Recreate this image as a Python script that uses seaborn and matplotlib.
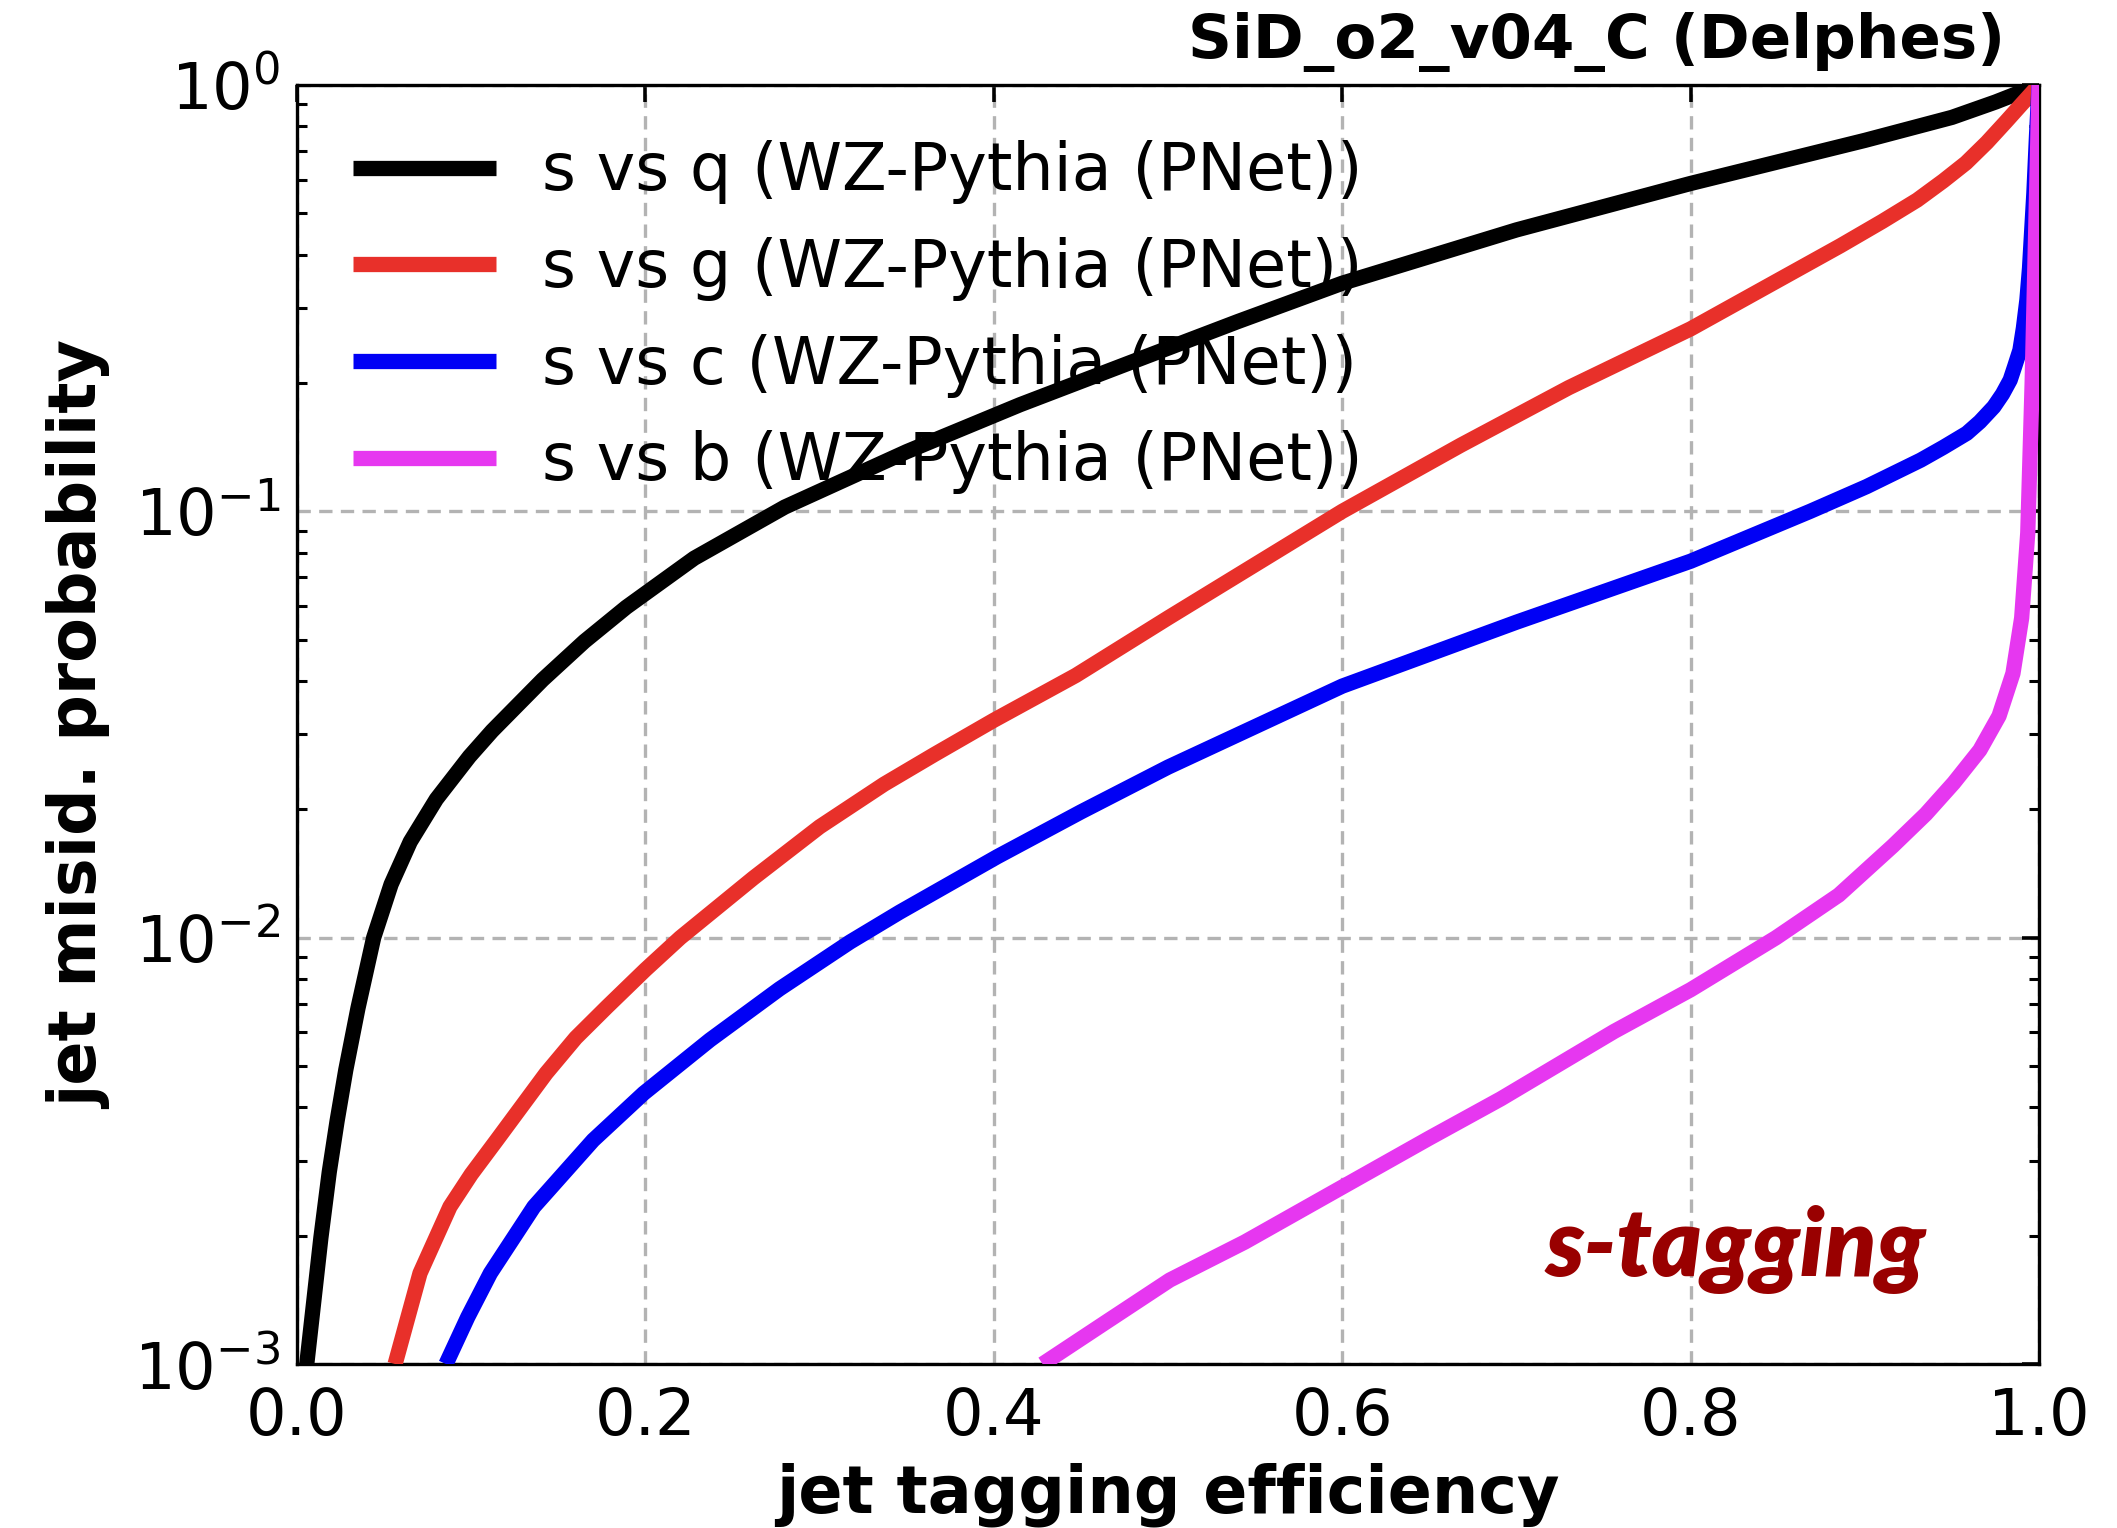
import numpy as np
import pandas as pd
import matplotlib
matplotlib.use("Agg")
import matplotlib.pyplot as plt
import matplotlib.ticker as mticker
import seaborn as sns

# ---------------- data ----------------
labels = ["s vs q (WZ-Pythia (PNet))", "s vs g (WZ-Pythia (PNet))",
          "s vs c (WZ-Pythia (PNet))", "s vs b (WZ-Pythia (PNet))"]
colors = ["#000000", "#e8302a", "#0000f5", "#e637f0"]

# efficiency values and log10 of misid. probability
eff_q = [0.0056, 0.0137, 0.0185, 0.023, 0.028, 0.035, 0.044, 0.054, 0.065, 0.080, 0.099,
         0.112, 0.141, 0.165, 0.189, 0.228, 0.28, 0.35, 0.415, 0.479, 0.54, 0.6, 0.7,
         0.8, 0.9, 0.95, 0.975, 1.0]
lmis_q = [-3.0, -2.704, -2.55, -2.43, -2.31, -2.165, -2.0, -1.875, -1.775, -1.675, -1.575,
          -1.515, -1.395, -1.305, -1.225, -1.11, -0.99, -0.86, -0.75, -0.65, -0.555, -0.465,
          -0.34, -0.231, -0.13, -0.076, -0.04, 0.0]

eff_g = [0.0563, 0.0706, 0.0878, 0.1, 0.1146, 0.143, 0.16, 0.178, 0.2, 0.22, 0.262, 0.30,
         0.337, 0.366, 0.4, 0.447, 0.5, 0.55, 0.6, 0.668, 0.73, 0.8, 0.886, 0.91, 0.93,
         0.945, 0.958, 0.97, 0.981, 0.99, 1.0]
lmis_g = [-3.0, -2.787, -2.631, -2.555, -2.475, -2.318, -2.235, -2.162, -2.075, -2.0, -1.86,
          -1.74, -1.64, -1.57, -1.49, -1.385, -1.25, -1.125, -1.0, -0.845, -0.71, -0.572,
          -0.377, -0.32, -0.27, -0.225, -0.183, -0.135, -0.086, -0.045, 0.0]

eff_c = [0.0855, 0.098, 0.111, 0.136, 0.170, 0.199, 0.237, 0.277, 0.3175, 0.346, 0.402,
         0.45, 0.5, 0.55, 0.6, 0.7, 0.8, 0.8686, 0.901, 0.932, 0.945, 0.9585, 0.966, 0.974,
         0.979, 0.9834, 0.986, 0.989, 0.991, 0.993, 0.9945, 0.997, 0.9985, 1.0]
lmis_c = [-3.0, -2.89, -2.787, -2.631, -2.475, -2.365, -2.24, -2.12, -2.01, -1.94, -1.81,
          -1.705, -1.60, -1.505, -1.41, -1.26, -1.117, -1.0, -0.942, -0.88, -0.85, -0.817,
          -0.79, -0.755, -0.725, -0.692, -0.66, -0.622, -0.57, -0.504, -0.43, -0.254,
          -0.12, 0.0]

eff_b = [0.428, 0.465, 0.501, 0.544, 0.6, 0.65, 0.691, 0.756, 0.8, 0.849, 0.885, 0.916,
         0.935, 0.951, 0.966, 0.977, 0.985, 0.990, 0.9935, 0.996, 0.998, 1.0]
lmis_b = [-3.0, -2.9, -2.803, -2.714, -2.585, -2.47, -2.378, -2.22, -2.122, -2.0, -1.9,
          -1.785, -1.71, -1.637, -1.56, -1.48, -1.38, -1.25, -1.05, -0.7, -0.35, 0.0]

xticks = [0.0, 0.2, 0.4, 0.6, 0.8, 1.0]
title_text = "SiD_o2_v04_C (Delphes)"
xlabel = "jet tagging efficiency"
ylabel = "jet misid. probability"
tag_text = "s-tagging"

# ---------------- build table ----------------
frames = []
for lab, e, lm in zip(labels, [eff_q, eff_g, eff_c, eff_b],
                      [lmis_q, lmis_g, lmis_c, lmis_b]):
    frames.append(pd.DataFrame({"eff": e, "mis": np.power(10.0, lm), "pair": lab}))
df = pd.concat(frames, ignore_index=True)

# ---------------- style ----------------
sns.set_style("white")
plt.rcParams["font.family"] = ["DejaVu Sans"]
plt.rcParams["mathtext.fontset"] = "dejavusans"
for k in ["text.color", "axes.labelcolor", "xtick.color", "ytick.color", "axes.edgecolor"]:
    plt.rcParams[k] = "black"

fig, ax = plt.subplots(figsize=(2117 / 200, 1528 / 200), dpi=200)
fig.subplots_adjust(left=0.1403, right=0.9632, top=0.9444, bottom=0.1073)

sns.lineplot(data=df, x="eff", y="mis", hue="pair", palette=dict(zip(labels, colors)),
             hue_order=labels, linewidth=5.5, estimator=None, sort=False, ax=ax,
             zorder=3, solid_joinstyle="round", solid_capstyle="butt")

ax.set_yscale("log")
ax.set_xlim(0, 1)
ax.set_ylim(1e-3, 1)
ax.set_xticks(xticks)
ax.xaxis.set_major_formatter(mticker.FormatStrFormatter("%.1f"))
ax.yaxis.set_major_locator(mticker.LogLocator(base=10, numticks=10))
ax.yaxis.set_minor_locator(mticker.LogLocator(base=10, subs=np.arange(2, 10), numticks=10))
ax.yaxis.set_minor_formatter(mticker.NullFormatter())

ax.tick_params(axis="both", which="major", direction="in", length=6, width=1.3,
               top=True, right=True, labelsize=23, color="black", labelcolor="black")
ax.tick_params(axis="x", which="major", pad=8)
ax.tick_params(axis="y", which="major", pad=6)
ax.tick_params(axis="y", which="minor", direction="in", length=3.5, width=1.1,
               left=True, right=True)

for sp in ax.spines.values():
    sp.set_color("black")
    sp.set_linewidth(1.2)

ax.grid(True, which="major", linestyle=(0, (4, 2.5)), color="#b3b3b3", linewidth=1.2, zorder=0)
ax.set_axisbelow(True)

ax.set_xlabel(xlabel, fontsize=23.5, fontweight="bold", labelpad=5)
ax.set_ylabel(ylabel, fontsize=23.5, fontweight="bold", labelpad=8)

ax.text(0.9805, 1.010, title_text, transform=ax.transAxes, ha="right", va="bottom",
        fontsize=22, fontweight="bold")

ax.text(0.826, 0.069, tag_text, transform=ax.transAxes, ha="center", va="baseline",
        fontsize=34, fontweight="heavy", fontstyle="italic", color="#990000",
        family=["Lato", "DejaVu Sans"])

handles, labs = ax.get_legend_handles_labels()
leg = ax.legend(handles, labs, loc="upper left", frameon=False, fontsize=23.5,
                handlelength=2.2, handletextpad=0.7, labelspacing=0.5,
                borderaxespad=0.45)
for h in leg.get_lines():
    h.set_linewidth(5.5)

fig.savefig("out.png", dpi=200)
